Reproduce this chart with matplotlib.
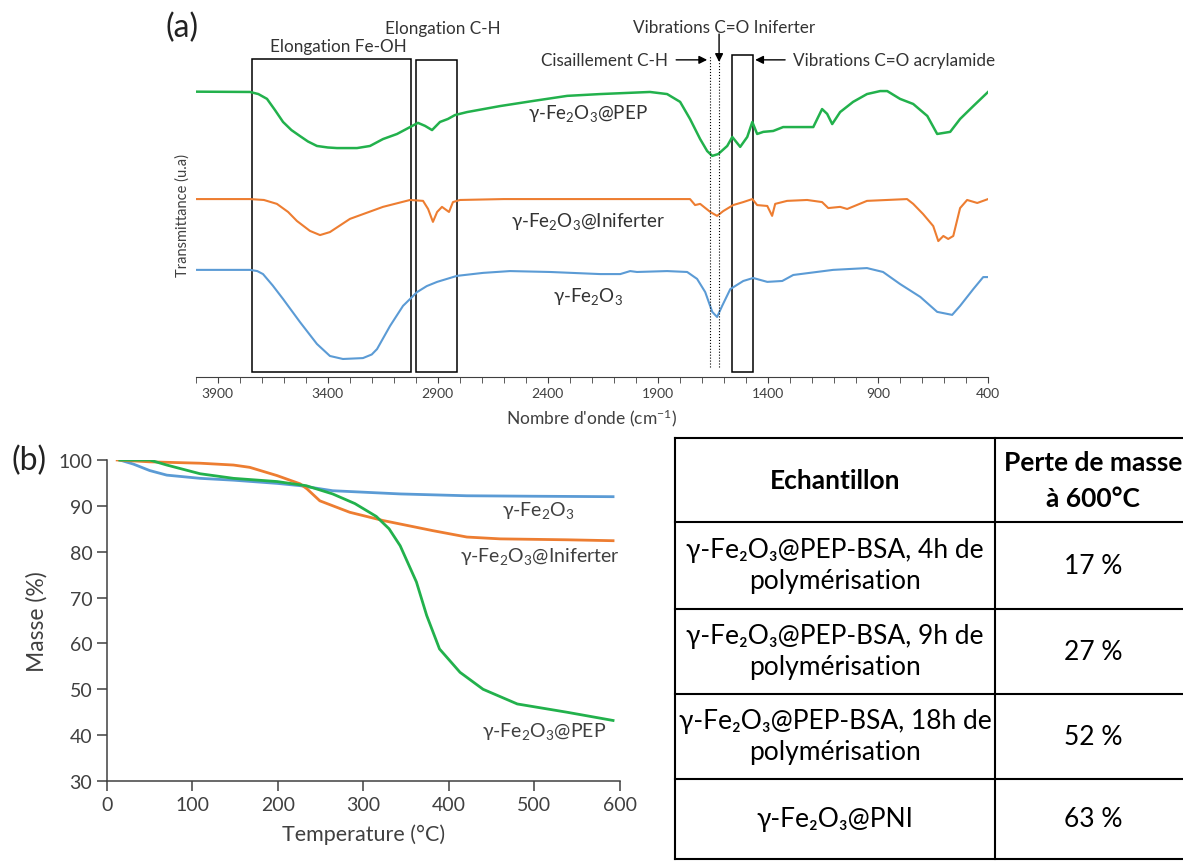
import matplotlib
matplotlib.use("Agg")
import matplotlib.pyplot as plt
from matplotlib.patches import Rectangle
import numpy as np

plt.rcParams['font.family'] = ['Lato', 'DejaVu Sans']
plt.rcParams['mathtext.fontset'] = 'custom'
plt.rcParams['mathtext.rm'] = 'Lato'
plt.rcParams['mathtext.it'] = 'Lato:italic'
plt.rcParams['mathtext.bf'] = 'Lato:bold'

GREEN = '#22b14c'
ORANGE = '#ed7d31'
BLUE = '#5b9bd5'

# ---- (a) IR spectra: wavenumber (cm-1), transmittance (arbitrary units) ----
pep_wn = [4000, 3753, 3715, 3676, 3640, 3603, 3565, 3526, 3490, 3449, 3400, 3358, 3267, 3208,
          3149, 3085, 3026, 2990, 2958, 2926, 2890, 2854, 2822, 2767, 2617, 2467, 2312, 2162,
          1936, 1858, 1799, 1754, 1708, 1676, 1653, 1626, 1585, 1562, 1526, 1494, 1471, 1449,
          1421, 1376, 1331, 1254, 1194, 1154, 1131, 1108, 1072, 1013, 950, 890, 858, 800, 740,
          676, 631, 572, 527, 467, 400]
pep_t = [95.1, 95, 94.3, 92.7, 89, 85, 82.3, 80.3, 78.5, 77, 76.5, 76.3, 76.3, 77,
         79.3, 81, 83.3, 84.7, 83.7, 82.3, 85, 86, 87.3, 88.3, 90.3, 92, 93.7, 94.3,
         95, 94.3, 91.7, 86, 79.3, 75.3, 73.7, 74.3, 77, 80, 76.7, 80, 85, 81,
         81.7, 82, 83.3, 83.3, 83.3, 89.3, 87.7, 84.3, 88.3, 91.7, 94.3, 95.3, 95.3, 92.7, 91,
         87, 81, 81.7, 86, 90.3, 95]

ini_wn = [4000, 3753, 3690, 3631, 3580, 3540, 3481, 3435, 3390, 3299, 3149, 3026, 2967, 2944,
          2922, 2903, 2881, 2849, 2831, 2799, 2600, 1754, 1731, 1708, 1662, 1631, 1603, 1558,
          1512, 1471, 1449, 1403, 1381, 1367, 1313, 1222, 1154, 1126, 1072, 1040, 950, 768,
          740, 695, 649, 626, 603, 581, 558, 527, 495, 449, 400]
ini_t = [59.3, 59.3, 59, 57.7, 55, 52, 48.7, 47.3, 48.3, 52.7, 56.7, 59, 58.7, 56,
         51.7, 55, 56.7, 55, 58.3, 59, 59.3, 59.3, 57.3, 57.7, 55, 53.7, 55.3, 57.3,
         58.3, 59.3, 57.3, 57, 53.7, 57.7, 58.7, 59, 58.3, 56.3, 56.7, 56, 58.7, 59.3,
         57.7, 54.3, 50.3, 45.3, 47, 46, 47, 56.3, 59, 58, 59.3]

fe_wn = [4000, 3753, 3720, 3694, 3650, 3603, 3526, 3449, 3390, 3331, 3240, 3200, 3176, 3117,
         3058, 2994, 2950, 2903, 2813, 2694, 2572, 2390, 2162, 2071, 2026, 1995, 1858, 1767,
         1722, 1685, 1653, 1631, 1608, 1571, 1512, 1467, 1403, 1335, 1285, 1104, 950, 877,
         800, 708, 631, 563, 527, 467, 422, 400]
fe_t = [35.7, 35.7, 35.3, 34.3, 30.5, 26, 18.3, 11, 7, 6, 6.3, 7.5, 9.3, 17,
        23.7, 28.3, 30.3, 31.7, 33.7, 34.7, 35.3, 35, 34.3, 34.3, 35.3, 35, 35.3, 35,
        32.7, 28.3, 21.7, 20, 23.7, 29.3, 32, 33, 31.7, 32, 34, 35.7, 36.3, 35,
        31, 26.7, 21.7, 20.7, 23.7, 29.3, 33.3, 33.3]

# band regions (cm-1)
band_fe_oh = (3744, 3022)
band_ch = (2999, 2813)
band_acryl = (1562, 1467)
band_cis = 1662
band_ini = 1622

# ---- (b) TGA: temperature (C), mass (%) ----
tga_fe_T = [15, 31, 50, 70, 109, 148, 199, 226, 264, 343, 421, 498, 592]
tga_fe_m = [100, 99.1, 97.7, 96.7, 96, 95.6, 94.9, 94.4, 93.3, 92.6, 92.2, 92.1, 92.0]

tga_ini_T = [12, 50, 109, 148, 167, 199, 226, 234, 249, 284, 323, 381, 421, 460, 538, 592]
tga_ini_m = [100, 99.6, 99.3, 98.9, 98.4, 96.6, 94.8, 93.7, 91.1, 88.6, 86.8, 84.6, 83.2, 82.8, 82.6, 82.4]

tga_pep_T = [15, 50, 70, 109, 148, 199, 233, 264, 290, 315, 330, 343, 362, 374, 389, 413, 440,
             480, 538, 592]
tga_pep_m = [100, 100, 98.9, 97, 96, 95.3, 94.4, 92.6, 90.5, 87.7, 85, 81.3, 73.4, 66.1, 58.8,
             53.7, 50, 46.8, 45, 43.2]

# ---- table ----
tab_header = ['Echantillon', 'Perte de masse\nà 600°C']
tab_samples = ['γ-Fe₂O₃@PEP-BSA, 4h de\npolymérisation',
               'γ-Fe₂O₃@PEP-BSA, 9h de\npolymérisation',
               'γ-Fe₂O₃@PEP-BSA, 18h de\npolymérisation',
               'γ-Fe₂O₃@PNI']
tab_loss = ['17 %', '27 %', '52 %', '63 %']

fig = plt.figure(figsize=(11.83, 8.62), dpi=100)

# ===== panel (a) =====
ax = fig.add_axes([0.1654, 0.5615, 0.6698, 0.3759])
ax.plot(pep_wn, pep_t, color=GREEN, lw=1.8)
ax.plot(ini_wn, ini_t, color=ORANGE, lw=1.5)
ax.plot(fe_wn, fe_t, color=BLUE, lw=1.5)
ax.set_xlim(4000, 400)
ax.set_ylim(0, 108)
ax.set_yticks([])
for s in ['left', 'right', 'top']:
    ax.spines[s].set_visible(False)
ax.spines['bottom'].set_color('#404040')
ax.set_xticks(np.arange(3900, 399, -500))
ax.set_xticks(np.arange(4000, 399, -100), minor=True)
ax.tick_params(axis='x', which='both', length=4, color='#404040', labelsize=10, labelcolor='#404040')
ax.set_xlabel("Nombre d'onde (cm$^{-1}$)", fontsize=12.5, color='#404040', labelpad=5)
ax.set_ylabel('Transmittance (u.a)', fontsize=10.5, color='#404040', labelpad=4)

for lo, hi, top in [(band_fe_oh[0], band_fe_oh[1], 106), (band_ch[0], band_ch[1], 105.7),
                    (band_acryl[0], band_acryl[1], 107.3)]:
    ax.add_patch(Rectangle((hi, 1.7), lo - hi, top - 1.7, fill=False, ec='black', lw=1.1, clip_on=False))
for wn in [band_cis, band_ini]:
    ax.plot([wn, wn], [3.3, 107.3], ls=':', color='black', lw=0.8, clip_on=False)

afs = 12.3
ax.text(3353, 110.3, 'Elongation Fe-OH', ha='center', va='center', fontsize=afs, color='#333333')
ax.text(2877, 116.3, 'Elongation C-H', ha='center', va='center', fontsize=afs, color='#333333')
ax.text(1853, 105.7, 'Cisaillement C-H', ha='right', va='center', fontsize=afs, color='#333333')
ax.text(1599, 116.7, 'Vibrations C=O Iniferter', ha='center', va='center', fontsize=afs, color='#333333')
ax.text(1286, 105.7, 'Vibrations C=O acrylamide', ha='left', va='center', fontsize=afs, color='#333333')
arw = dict(arrowstyle='-|>', color='black', lw=1, mutation_scale=12, shrinkA=0, shrinkB=0)
ax.annotate('', xy=(1676, 105.7), xytext=(1817, 105.7), arrowprops=arw, annotation_clip=False)
ax.annotate('', xy=(1458, 105.7), xytext=(1322, 105.7), arrowprops=arw, annotation_clip=False)
ax.annotate('', xy=(band_ini, 105), xytext=(band_ini, 114.3), arrowprops=arw, annotation_clip=False)

ax.text(2217, 88.3, 'γ-Fe$_2$O$_3$@PEP', ha='center', va='center', fontsize=13.5, color='#333333')
ax.text(2217, 52, 'γ-Fe$_2$O$_3$@Iniferter', ha='center', va='center', fontsize=13.5, color='#333333')
ax.text(2217, 27.3, 'γ-Fe$_2$O$_3$', ha='center', va='center', fontsize=13.5, color='#333333')

# ===== panel (b) =====
bx = fig.add_axes([0.0904, 0.0928, 0.4336, 0.3724])
bx.plot(tga_fe_T, tga_fe_m, color=BLUE, lw=2)
bx.plot(tga_ini_T, tga_ini_m, color=ORANGE, lw=2)
bx.plot(tga_pep_T, tga_pep_m, color=GREEN, lw=2)
bx.set_xlim(0, 600)
bx.set_ylim(30, 100)
bx.set_xticks(np.arange(0, 601, 100))
bx.set_yticks(np.arange(30, 101, 10))
for s in ['right', 'top']:
    bx.spines[s].set_visible(False)
for s in ['left', 'bottom']:
    bx.spines[s].set_color('#404040')
    bx.spines[s].set_linewidth(1.1)
bx.tick_params(length=7, width=1.1, color='#404040', labelsize=14, labelcolor='#404040')
bx.set_xlabel('Temperature (°C)', fontsize=15.5, color='#404040', labelpad=8)
bx.set_ylabel('Masse (%)', fontsize=16.5, color='#404040', labelpad=8)
bx.text(505, 89.3, 'γ-Fe$_2$O$_3$', ha='center', va='center', fontsize=14, color='#404040')
bx.text(506, 79.1, 'γ-Fe$_2$O$_3$@Iniferter', ha='center', va='center', fontsize=14, color='#404040')
bx.text(511, 41.0, 'γ-Fe$_2$O$_3$@PEP', ha='center', va='center', fontsize=14, color='#404040')

# ===== overlay: panel letters and table (pixel coordinates) =====
ov = fig.add_axes([0, 0, 1, 1])
ov.set_xlim(0, 1183)
ov.set_ylim(862, 0)
ov.axis('off')
ov.text(182, 28, '(a)', ha='center', va='center', fontsize=23, color='#222222')
ov.text(29, 461, '(b)', ha='center', va='center', fontsize=23, color='#222222')

tl, tr, tt, tb, tmid = 675, 1300, 439, 860, 995
row_lines = [523, 610, 695, 780]
ov.plot([tl, tr], [tt, tt], color='black', lw=1.5, clip_on=False)
ov.plot([tl, tr], [tb, tb], color='black', lw=1.5, clip_on=False)
ov.plot([tl, tl], [tt, tb], color='black', lw=1.5, clip_on=False)
ov.plot([tmid, tmid], [tt, tb], color='black', lw=1.5, clip_on=False)
for y in row_lines:
    ov.plot([tl, tr], [y, y], color='black', lw=1.5, clip_on=False)

tfs = 19
c1, c2 = 835, 1093
row_tops = [tt] + row_lines
row_bots = row_lines + [tb]
ov.text(c1, (row_tops[0] + row_bots[0]) / 2, tab_header[0], ha='center', va='center',
        fontsize=tfs, fontweight='bold', color='black')
ov.text(c2, (row_tops[0] + row_bots[0]) / 2, tab_header[1], ha='center', va='center',
        fontsize=tfs, fontweight='bold', color='black', linespacing=1.6)
for i in range(len(tab_samples)):
    yc = (row_tops[i + 1] + row_bots[i + 1]) / 2
    ov.text(c1, yc, tab_samples[i], ha='center', va='center', fontsize=tfs,
            color='black', linespacing=1.3)
    ov.text(c2, yc, tab_loss[i], ha='center', va='center', fontsize=tfs, color='black')

fig.savefig('out.png', dpi=100)
